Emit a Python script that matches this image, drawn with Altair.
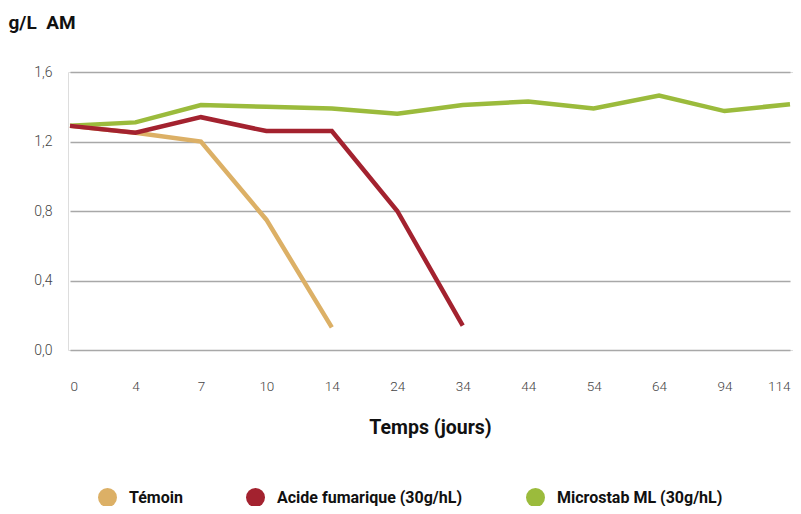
import altair as alt
import pandas as pd

jours = ["0", "4", "7", "10", "14", "24", "34", "44", "54", "64", "94", "114"]
series_names = ["Témoin", "Acide fumarique (30g/hL)", "Microstab ML (30g/hL)"]
colors = ["#DCB066", "#A3222F", "#9BBB3C"]

temoin = [1.29, 1.25, 1.20, 0.75, 0.13]
acide = [1.29, 1.25, 1.34, 1.26, 1.26, 0.80, 0.14]
microstab = [1.29, 1.31, 1.41, 1.40, 1.39, 1.36, 1.41, 1.43, 1.39, 1.465, 1.375, 1.415]

rows = []
order = 0
for name, vals in [(series_names[2], microstab), (series_names[0], temoin), (series_names[1], acide)]:
    for j, v in zip(jours, vals):
        rows.append({"jour": j, "val": v, "serie": name, "o": order})
    order += 1
df = pd.DataFrame(rows)

base = alt.Chart(df).encode(
    x=alt.X("jour:N", sort=jours,
            scale=alt.Scale(type="point", range=[2, 722], padding=0),
            axis=alt.Axis(title="Temps (jours)", labelAngle=0, grid=False, domain=False, ticks=False,
                          labelFlush=True,
                          labelPadding=29, labelFontSize=13.5, labelFont="Roboto", labelFontWeight=300,
                          labelColor="#444444", titleFont="Roboto", titleFontSize=19.5,
                          titleFontWeight="bold", titleColor="#111111", titlePadding=26)),
    y=alt.Y("val:Q", scale=alt.Scale(domain=[0, 1.6], nice=False),
            axis=alt.Axis(values=[0, 0.4, 0.8, 1.2, 1.6],
                          labelExpr="replace(format(datum.value, '.1f'), '.', ',')",
                          grid=True, gridColor="#a8a8a8", gridWidth=1.3, domain=False, ticks=False,
                          labelPadding=16, labelFontSize=14, labelFont="Roboto", labelFontWeight=300,
                          labelColor="#444444",
                          title="g/L\u00a0\u00a0AM", titleAngle=0, titleAlign="left", titleBaseline="middle",
                          titleX=-60, titleY=-50, titleFont="Roboto", titleFontSize=19,
                          titleFontWeight="bold", titleColor="#111111")),
    color=alt.Color("serie:N", scale=alt.Scale(domain=series_names, range=colors),
                    legend=alt.Legend(title=None, orient="none", legendX=30, legendY=416,
                                      direction="horizontal", symbolType="circle", symbolSize=361,
                                      symbolStrokeWidth=0, symbolOpacity=1, columnPadding=63,
                                      labelFont="Roboto", labelFontSize=16, labelFontWeight="bold",
                                      labelColor="#111111", labelOffset=12, labelLimit=400)),
    order=alt.Order("o:Q"),
    detail="serie:N",
)

lines = base.mark_line(strokeWidth=4.5)
dots = base.mark_circle(size=0, opacity=1)

chart = alt.layer(lines, dots).properties(
    width=725, height=278,
    autosize=alt.AutoSizeParams(type="none"),
    padding={"left": 60, "top": 64, "right": 0, "bottom": 156},
).configure_view(stroke=None).configure(background="white")

chart.save("out.html", embed_options={"renderer": "svg", "actions": False})
